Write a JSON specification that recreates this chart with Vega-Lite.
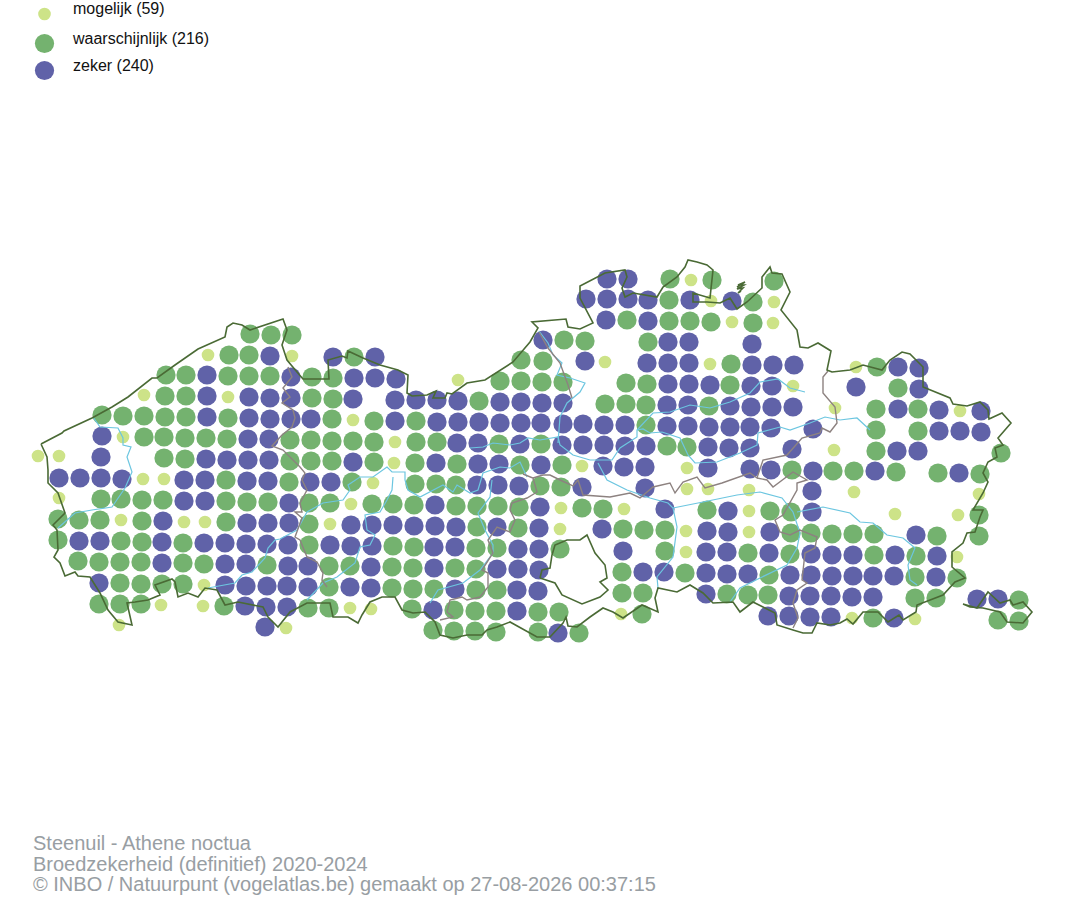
{
  "$schema": "https://vega.github.io/schema/vega-lite/v6.json",
  "width": 1074,
  "height": 900,
  "padding": 0,
  "autosize": "none",
  "background": "white",
  "title": {
    "text": ["Steenuil - Athene noctua", "Broedzekerheid (definitief) 2020-2024", "© INBO / Natuurpunt (vogelatlas.be) gemaakt op 27-08-2026 00:37:15"],
    "anchor": "start",
    "frame": "group",
    "orient": "top",
    "baseline": "top",
    "offset": 0,
    "dx": 33,
    "dy": 895,
    "font": "Liberation Sans",
    "fontSize": 20,
    "fontWeight": "normal",
    "lineHeight": 20.5,
    "color": "#989ea3"
  },
  "config": {"view": {"stroke": null}},
  "datasets": {
    "dots": [
      {"x":607,"y":279,"s":"zeker"},{"x":628,"y":279,"s":"zeker"},{"x":670,"y":279,"s":"waarschijnlijk"},{"x":691,"y":280,"s":"mogelijk"},{"x":712,"y":280,"s":"waarschijnlijk"},{"x":774,"y":281,"s":"waarschijnlijk"},
      {"x":586,"y":299,"s":"zeker"},{"x":607,"y":299,"s":"zeker"},{"x":628,"y":299,"s":"zeker"},{"x":648,"y":300,"s":"zeker"},{"x":669,"y":300,"s":"waarschijnlijk"},{"x":690,"y":300,"s":"zeker"},{"x":711,"y":301,"s":"mogelijk"},{"x":732,"y":301,"s":"zeker"},{"x":753,"y":302,"s":"waarschijnlijk"},{"x":774,"y":302,"s":"mogelijk"},
      {"x":606,"y":320,"s":"zeker"},{"x":627,"y":320,"s":"waarschijnlijk"},{"x":648,"y":321,"s":"zeker"},{"x":669,"y":321,"s":"waarschijnlijk"},{"x":690,"y":321,"s":"waarschijnlijk"},{"x":711,"y":322,"s":"waarschijnlijk"},{"x":732,"y":322,"s":"mogelijk"},{"x":753,"y":323,"s":"waarschijnlijk"},{"x":773,"y":323,"s":"mogelijk"},
      {"x":250,"y":334,"s":"waarschijnlijk"},{"x":271,"y":335,"s":"waarschijnlijk"},{"x":292,"y":335,"s":"waarschijnlijk"},{"x":543,"y":340,"s":"zeker"},{"x":564,"y":340,"s":"waarschijnlijk"},{"x":585,"y":341,"s":"waarschijnlijk"},{"x":648,"y":342,"s":"waarschijnlijk"},{"x":668,"y":342,"s":"zeker"},{"x":689,"y":342,"s":"zeker"},{"x":752,"y":344,"s":"zeker"},
      {"x":208,"y":355,"s":"mogelijk"},{"x":229,"y":355,"s":"waarschijnlijk"},{"x":249,"y":355,"s":"waarschijnlijk"},{"x":270,"y":356,"s":"zeker"},{"x":292,"y":356,"s":"mogelijk"},{"x":333,"y":357,"s":"zeker"},{"x":354,"y":357,"s":"waarschijnlijk"},{"x":375,"y":357,"s":"zeker"},{"x":521,"y":360,"s":"waarschijnlijk"},{"x":543,"y":361,"s":"waarschijnlijk"},{"x":585,"y":361,"s":"zeker"},{"x":605,"y":362,"s":"mogelijk"},{"x":647,"y":363,"s":"zeker"},{"x":668,"y":363,"s":"zeker"},{"x":689,"y":363,"s":"zeker"},{"x":710,"y":364,"s":"mogelijk"},{"x":731,"y":364,"s":"waarschijnlijk"},{"x":752,"y":365,"s":"zeker"},{"x":773,"y":365,"s":"zeker"},{"x":794,"y":365,"s":"zeker"},{"x":856,"y":367,"s":"mogelijk"},{"x":877,"y":367,"s":"waarschijnlijk"},{"x":898,"y":367,"s":"zeker"},{"x":919,"y":368,"s":"zeker"},
      {"x":166,"y":375,"s":"waarschijnlijk"},{"x":186,"y":375,"s":"waarschijnlijk"},{"x":207,"y":375,"s":"zeker"},{"x":228,"y":376,"s":"waarschijnlijk"},{"x":249,"y":376,"s":"waarschijnlijk"},{"x":270,"y":376,"s":"waarschijnlijk"},{"x":291,"y":377,"s":"zeker"},{"x":312,"y":377,"s":"waarschijnlijk"},{"x":333,"y":378,"s":"waarschijnlijk"},{"x":354,"y":378,"s":"zeker"},{"x":375,"y":378,"s":"zeker"},{"x":396,"y":379,"s":"zeker"},{"x":458,"y":380,"s":"mogelijk"},{"x":500,"y":381,"s":"waarschijnlijk"},{"x":521,"y":381,"s":"waarschijnlijk"},{"x":542,"y":382,"s":"waarschijnlijk"},{"x":563,"y":382,"s":"waarschijnlijk"},{"x":626,"y":383,"s":"waarschijnlijk"},{"x":647,"y":384,"s":"waarschijnlijk"},{"x":668,"y":384,"s":"zeker"},{"x":689,"y":384,"s":"zeker"},{"x":710,"y":385,"s":"zeker"},{"x":730,"y":385,"s":"waarschijnlijk"},{"x":751,"y":386,"s":"zeker"},{"x":772,"y":386,"s":"zeker"},{"x":793,"y":386,"s":"mogelijk"},{"x":856,"y":387,"s":"zeker"},{"x":898,"y":388,"s":"waarschijnlijk"},{"x":919,"y":389,"s":"zeker"},
      {"x":144,"y":395,"s":"mogelijk"},{"x":165,"y":396,"s":"waarschijnlijk"},{"x":186,"y":396,"s":"waarschijnlijk"},{"x":207,"y":396,"s":"zeker"},{"x":228,"y":397,"s":"mogelijk"},{"x":249,"y":397,"s":"zeker"},{"x":270,"y":398,"s":"zeker"},{"x":291,"y":398,"s":"zeker"},{"x":312,"y":398,"s":"waarschijnlijk"},{"x":333,"y":399,"s":"waarschijnlijk"},{"x":353,"y":399,"s":"zeker"},{"x":395,"y":400,"s":"zeker"},{"x":416,"y":400,"s":"zeker"},{"x":437,"y":400,"s":"zeker"},{"x":458,"y":401,"s":"zeker"},{"x":479,"y":401,"s":"waarschijnlijk"},{"x":500,"y":402,"s":"zeker"},{"x":521,"y":402,"s":"zeker"},{"x":542,"y":403,"s":"zeker"},{"x":563,"y":403,"s":"zeker"},{"x":605,"y":404,"s":"waarschijnlijk"},{"x":626,"y":404,"s":"waarschijnlijk"},{"x":646,"y":405,"s":"waarschijnlijk"},{"x":667,"y":405,"s":"zeker"},{"x":688,"y":405,"s":"zeker"},{"x":709,"y":406,"s":"waarschijnlijk"},{"x":730,"y":406,"s":"zeker"},{"x":751,"y":407,"s":"zeker"},{"x":772,"y":407,"s":"zeker"},{"x":793,"y":407,"s":"zeker"},{"x":835,"y":408,"s":"mogelijk"},{"x":876,"y":409,"s":"waarschijnlijk"},{"x":898,"y":409,"s":"zeker"},{"x":918,"y":409,"s":"waarschijnlijk"},{"x":939,"y":410,"s":"zeker"},{"x":960,"y":411,"s":"mogelijk"},{"x":981,"y":411,"s":"zeker"},
      {"x":102,"y":415,"s":"waarschijnlijk"},{"x":123,"y":416,"s":"waarschijnlijk"},{"x":144,"y":416,"s":"waarschijnlijk"},{"x":165,"y":417,"s":"waarschijnlijk"},{"x":186,"y":417,"s":"waarschijnlijk"},{"x":207,"y":417,"s":"zeker"},{"x":228,"y":418,"s":"waarschijnlijk"},{"x":249,"y":418,"s":"zeker"},{"x":270,"y":419,"s":"zeker"},{"x":291,"y":419,"s":"zeker"},{"x":311,"y":419,"s":"zeker"},{"x":332,"y":419,"s":"waarschijnlijk"},{"x":353,"y":420,"s":"mogelijk"},{"x":374,"y":421,"s":"waarschijnlijk"},{"x":395,"y":421,"s":"zeker"},{"x":416,"y":421,"s":"waarschijnlijk"},{"x":437,"y":422,"s":"zeker"},{"x":458,"y":422,"s":"zeker"},{"x":479,"y":422,"s":"zeker"},{"x":500,"y":423,"s":"zeker"},{"x":521,"y":423,"s":"zeker"},{"x":541,"y":423,"s":"zeker"},{"x":563,"y":424,"s":"zeker"},{"x":583,"y":424,"s":"zeker"},{"x":604,"y":425,"s":"zeker"},{"x":625,"y":425,"s":"zeker"},{"x":646,"y":425,"s":"waarschijnlijk"},{"x":667,"y":426,"s":"zeker"},{"x":688,"y":426,"s":"zeker"},{"x":709,"y":427,"s":"zeker"},{"x":730,"y":427,"s":"zeker"},{"x":750,"y":427,"s":"zeker"},{"x":771,"y":428,"s":"zeker"},{"x":813,"y":429,"s":"zeker"},{"x":876,"y":430,"s":"waarschijnlijk"},{"x":918,"y":431,"s":"waarschijnlijk"},{"x":939,"y":431,"s":"zeker"},{"x":960,"y":431,"s":"zeker"},{"x":981,"y":432,"s":"zeker"},
      {"x":102,"y":436,"s":"zeker"},{"x":123,"y":437,"s":"mogelijk"},{"x":144,"y":437,"s":"waarschijnlijk"},{"x":164,"y":437,"s":"waarschijnlijk"},{"x":185,"y":438,"s":"waarschijnlijk"},{"x":206,"y":438,"s":"waarschijnlijk"},{"x":227,"y":439,"s":"waarschijnlijk"},{"x":248,"y":439,"s":"zeker"},{"x":269,"y":439,"s":"zeker"},{"x":290,"y":440,"s":"waarschijnlijk"},{"x":311,"y":440,"s":"waarschijnlijk"},{"x":332,"y":441,"s":"waarschijnlijk"},{"x":353,"y":441,"s":"waarschijnlijk"},{"x":374,"y":442,"s":"waarschijnlijk"},{"x":395,"y":442,"s":"mogelijk"},{"x":416,"y":442,"s":"waarschijnlijk"},{"x":437,"y":442,"s":"waarschijnlijk"},{"x":457,"y":443,"s":"zeker"},{"x":478,"y":443,"s":"zeker"},{"x":499,"y":444,"s":"waarschijnlijk"},{"x":520,"y":444,"s":"zeker"},{"x":541,"y":444,"s":"waarschijnlijk"},{"x":562,"y":445,"s":"zeker"},{"x":583,"y":445,"s":"zeker"},{"x":604,"y":445,"s":"zeker"},{"x":625,"y":446,"s":"zeker"},{"x":646,"y":446,"s":"zeker"},{"x":667,"y":446,"s":"waarschijnlijk"},{"x":687,"y":447,"s":"waarschijnlijk"},{"x":708,"y":447,"s":"zeker"},{"x":729,"y":448,"s":"zeker"},{"x":750,"y":448,"s":"zeker"},{"x":792,"y":449,"s":"zeker"},{"x":834,"y":450,"s":"mogelijk"},{"x":876,"y":451,"s":"waarschijnlijk"},{"x":897,"y":451,"s":"zeker"},{"x":918,"y":451,"s":"zeker"},{"x":1001,"y":453,"s":"waarschijnlijk"},
      {"x":38,"y":456,"s":"mogelijk"},{"x":59,"y":456,"s":"mogelijk"},{"x":101,"y":457,"s":"zeker"},{"x":164,"y":458,"s":"waarschijnlijk"},{"x":185,"y":459,"s":"waarschijnlijk"},{"x":206,"y":459,"s":"zeker"},{"x":227,"y":460,"s":"zeker"},{"x":248,"y":460,"s":"zeker"},{"x":269,"y":460,"s":"zeker"},{"x":290,"y":461,"s":"waarschijnlijk"},{"x":311,"y":461,"s":"waarschijnlijk"},{"x":332,"y":461,"s":"waarschijnlijk"},{"x":353,"y":462,"s":"zeker"},{"x":374,"y":462,"s":"waarschijnlijk"},{"x":394,"y":463,"s":"mogelijk"},{"x":415,"y":463,"s":"waarschijnlijk"},{"x":436,"y":463,"s":"zeker"},{"x":457,"y":464,"s":"waarschijnlijk"},{"x":478,"y":464,"s":"zeker"},{"x":499,"y":464,"s":"zeker"},{"x":520,"y":465,"s":"waarschijnlijk"},{"x":541,"y":465,"s":"zeker"},{"x":562,"y":465,"s":"waarschijnlijk"},{"x":582,"y":466,"s":"mogelijk"},{"x":603,"y":466,"s":"zeker"},{"x":624,"y":467,"s":"zeker"},{"x":645,"y":467,"s":"zeker"},{"x":687,"y":468,"s":"mogelijk"},{"x":708,"y":468,"s":"zeker"},{"x":750,"y":469,"s":"zeker"},{"x":771,"y":470,"s":"zeker"},{"x":792,"y":470,"s":"waarschijnlijk"},{"x":813,"y":471,"s":"zeker"},{"x":833,"y":471,"s":"waarschijnlijk"},{"x":854,"y":471,"s":"waarschijnlijk"},{"x":875,"y":471,"s":"zeker"},{"x":896,"y":472,"s":"waarschijnlijk"},{"x":938,"y":473,"s":"waarschijnlijk"},{"x":959,"y":473,"s":"zeker"},{"x":980,"y":474,"s":"waarschijnlijk"},
      {"x":59,"y":478,"s":"zeker"},{"x":80,"y":478,"s":"zeker"},{"x":101,"y":478,"s":"zeker"},{"x":122,"y":479,"s":"zeker"},{"x":143,"y":479,"s":"mogelijk"},{"x":164,"y":479,"s":"mogelijk"},{"x":184,"y":480,"s":"zeker"},{"x":205,"y":480,"s":"zeker"},{"x":226,"y":480,"s":"waarschijnlijk"},{"x":247,"y":481,"s":"zeker"},{"x":268,"y":481,"s":"zeker"},{"x":289,"y":482,"s":"waarschijnlijk"},{"x":310,"y":482,"s":"zeker"},{"x":331,"y":482,"s":"zeker"},{"x":352,"y":482,"s":"waarschijnlijk"},{"x":373,"y":483,"s":"mogelijk"},{"x":415,"y":484,"s":"waarschijnlijk"},{"x":436,"y":484,"s":"waarschijnlijk"},{"x":456,"y":485,"s":"waarschijnlijk"},{"x":477,"y":485,"s":"zeker"},{"x":498,"y":485,"s":"zeker"},{"x":519,"y":486,"s":"zeker"},{"x":540,"y":486,"s":"waarschijnlijk"},{"x":561,"y":487,"s":"waarschijnlijk"},{"x":582,"y":487,"s":"zeker"},{"x":645,"y":488,"s":"zeker"},{"x":687,"y":489,"s":"mogelijk"},{"x":708,"y":489,"s":"mogelijk"},{"x":749,"y":490,"s":"mogelijk"},{"x":812,"y":491,"s":"zeker"},{"x":854,"y":492,"s":"mogelijk"},{"x":979,"y":494,"s":"mogelijk"},
      {"x":59,"y":498,"s":"mogelijk"},{"x":101,"y":499,"s":"waarschijnlijk"},{"x":121,"y":499,"s":"waarschijnlijk"},{"x":142,"y":500,"s":"waarschijnlijk"},{"x":163,"y":500,"s":"waarschijnlijk"},{"x":184,"y":501,"s":"zeker"},{"x":205,"y":501,"s":"zeker"},{"x":226,"y":501,"s":"waarschijnlijk"},{"x":247,"y":502,"s":"waarschijnlijk"},{"x":268,"y":502,"s":"waarschijnlijk"},{"x":289,"y":503,"s":"zeker"},{"x":309,"y":503,"s":"waarschijnlijk"},{"x":330,"y":503,"s":"waarschijnlijk"},{"x":351,"y":504,"s":"mogelijk"},{"x":372,"y":504,"s":"waarschijnlijk"},{"x":393,"y":504,"s":"waarschijnlijk"},{"x":414,"y":505,"s":"waarschijnlijk"},{"x":435,"y":505,"s":"zeker"},{"x":456,"y":506,"s":"waarschijnlijk"},{"x":477,"y":506,"s":"waarschijnlijk"},{"x":498,"y":506,"s":"waarschijnlijk"},{"x":519,"y":507,"s":"waarschijnlijk"},{"x":540,"y":507,"s":"zeker"},{"x":561,"y":508,"s":"mogelijk"},{"x":582,"y":508,"s":"waarschijnlijk"},{"x":603,"y":509,"s":"waarschijnlijk"},{"x":624,"y":509,"s":"mogelijk"},{"x":665,"y":509,"s":"zeker"},{"x":707,"y":510,"s":"waarschijnlijk"},{"x":728,"y":511,"s":"zeker"},{"x":749,"y":511,"s":"mogelijk"},{"x":770,"y":511,"s":"waarschijnlijk"},{"x":791,"y":512,"s":"waarschijnlijk"},{"x":812,"y":512,"s":"zeker"},{"x":895,"y":514,"s":"mogelijk"},{"x":958,"y":515,"s":"mogelijk"},{"x":979,"y":515,"s":"waarschijnlijk"},
      {"x":58,"y":519,"s":"waarschijnlijk"},{"x":79,"y":520,"s":"waarschijnlijk"},{"x":100,"y":520,"s":"waarschijnlijk"},{"x":121,"y":520,"s":"mogelijk"},{"x":142,"y":521,"s":"waarschijnlijk"},{"x":163,"y":521,"s":"zeker"},{"x":184,"y":522,"s":"mogelijk"},{"x":205,"y":522,"s":"mogelijk"},{"x":226,"y":522,"s":"waarschijnlijk"},{"x":247,"y":523,"s":"zeker"},{"x":268,"y":523,"s":"zeker"},{"x":289,"y":523,"s":"zeker"},{"x":309,"y":524,"s":"waarschijnlijk"},{"x":330,"y":524,"s":"mogelijk"},{"x":351,"y":525,"s":"zeker"},{"x":372,"y":525,"s":"zeker"},{"x":393,"y":525,"s":"zeker"},{"x":414,"y":526,"s":"zeker"},{"x":435,"y":526,"s":"zeker"},{"x":456,"y":527,"s":"zeker"},{"x":477,"y":527,"s":"waarschijnlijk"},{"x":497,"y":527,"s":"zeker"},{"x":518,"y":528,"s":"waarschijnlijk"},{"x":539,"y":528,"s":"zeker"},{"x":560,"y":529,"s":"mogelijk"},{"x":602,"y":529,"s":"zeker"},{"x":623,"y":529,"s":"waarschijnlijk"},{"x":644,"y":530,"s":"waarschijnlijk"},{"x":665,"y":530,"s":"waarschijnlijk"},{"x":686,"y":531,"s":"mogelijk"},{"x":707,"y":531,"s":"zeker"},{"x":728,"y":532,"s":"zeker"},{"x":749,"y":532,"s":"mogelijk"},{"x":770,"y":532,"s":"zeker"},{"x":791,"y":533,"s":"waarschijnlijk"},{"x":811,"y":533,"s":"waarschijnlijk"},{"x":832,"y":534,"s":"waarschijnlijk"},{"x":853,"y":534,"s":"waarschijnlijk"},{"x":874,"y":534,"s":"waarschijnlijk"},{"x":916,"y":535,"s":"zeker"},{"x":937,"y":536,"s":"waarschijnlijk"},{"x":979,"y":536,"s":"waarschijnlijk"},
      {"x":58,"y":540,"s":"waarschijnlijk"},{"x":79,"y":541,"s":"zeker"},{"x":100,"y":541,"s":"zeker"},{"x":121,"y":541,"s":"waarschijnlijk"},{"x":142,"y":542,"s":"waarschijnlijk"},{"x":162,"y":542,"s":"zeker"},{"x":183,"y":543,"s":"waarschijnlijk"},{"x":204,"y":543,"s":"zeker"},{"x":225,"y":543,"s":"zeker"},{"x":246,"y":544,"s":"zeker"},{"x":267,"y":544,"s":"zeker"},{"x":288,"y":545,"s":"zeker"},{"x":309,"y":545,"s":"waarschijnlijk"},{"x":330,"y":545,"s":"zeker"},{"x":351,"y":546,"s":"zeker"},{"x":372,"y":546,"s":"zeker"},{"x":393,"y":546,"s":"waarschijnlijk"},{"x":414,"y":547,"s":"waarschijnlijk"},{"x":434,"y":547,"s":"zeker"},{"x":455,"y":547,"s":"zeker"},{"x":476,"y":548,"s":"waarschijnlijk"},{"x":497,"y":548,"s":"waarschijnlijk"},{"x":518,"y":549,"s":"zeker"},{"x":539,"y":549,"s":"zeker"},{"x":560,"y":549,"s":"waarschijnlijk"},{"x":623,"y":551,"s":"zeker"},{"x":665,"y":551,"s":"waarschijnlijk"},{"x":686,"y":552,"s":"mogelijk"},{"x":706,"y":552,"s":"zeker"},{"x":727,"y":552,"s":"zeker"},{"x":748,"y":553,"s":"waarschijnlijk"},{"x":769,"y":553,"s":"zeker"},{"x":790,"y":554,"s":"waarschijnlijk"},{"x":811,"y":554,"s":"zeker"},{"x":832,"y":555,"s":"zeker"},{"x":853,"y":555,"s":"zeker"},{"x":874,"y":555,"s":"waarschijnlijk"},{"x":895,"y":555,"s":"zeker"},{"x":916,"y":556,"s":"waarschijnlijk"},{"x":937,"y":556,"s":"zeker"},{"x":957,"y":557,"s":"mogelijk"},
      {"x":78,"y":561,"s":"waarschijnlijk"},{"x":99,"y":562,"s":"waarschijnlijk"},{"x":120,"y":562,"s":"waarschijnlijk"},{"x":141,"y":562,"s":"waarschijnlijk"},{"x":162,"y":563,"s":"zeker"},{"x":183,"y":563,"s":"waarschijnlijk"},{"x":204,"y":564,"s":"waarschijnlijk"},{"x":225,"y":564,"s":"zeker"},{"x":246,"y":564,"s":"zeker"},{"x":267,"y":565,"s":"waarschijnlijk"},{"x":288,"y":566,"s":"zeker"},{"x":308,"y":566,"s":"zeker"},{"x":329,"y":566,"s":"waarschijnlijk"},{"x":350,"y":566,"s":"waarschijnlijk"},{"x":371,"y":567,"s":"zeker"},{"x":392,"y":567,"s":"waarschijnlijk"},{"x":413,"y":568,"s":"waarschijnlijk"},{"x":434,"y":568,"s":"zeker"},{"x":455,"y":568,"s":"waarschijnlijk"},{"x":476,"y":569,"s":"waarschijnlijk"},{"x":497,"y":569,"s":"zeker"},{"x":518,"y":569,"s":"zeker"},{"x":539,"y":570,"s":"zeker"},{"x":622,"y":572,"s":"waarschijnlijk"},{"x":643,"y":572,"s":"zeker"},{"x":664,"y":572,"s":"zeker"},{"x":685,"y":573,"s":"waarschijnlijk"},{"x":706,"y":573,"s":"zeker"},{"x":727,"y":574,"s":"zeker"},{"x":748,"y":574,"s":"zeker"},{"x":769,"y":575,"s":"waarschijnlijk"},{"x":790,"y":575,"s":"zeker"},{"x":811,"y":575,"s":"zeker"},{"x":832,"y":576,"s":"zeker"},{"x":853,"y":576,"s":"zeker"},{"x":873,"y":576,"s":"zeker"},{"x":894,"y":576,"s":"zeker"},{"x":915,"y":577,"s":"waarschijnlijk"},{"x":936,"y":577,"s":"zeker"},{"x":957,"y":578,"s":"waarschijnlijk"},
      {"x":99,"y":583,"s":"zeker"},{"x":120,"y":583,"s":"waarschijnlijk"},{"x":141,"y":584,"s":"waarschijnlijk"},{"x":162,"y":584,"s":"waarschijnlijk"},{"x":183,"y":584,"s":"waarschijnlijk"},{"x":204,"y":585,"s":"mogelijk"},{"x":225,"y":585,"s":"zeker"},{"x":246,"y":586,"s":"zeker"},{"x":267,"y":586,"s":"zeker"},{"x":287,"y":586,"s":"zeker"},{"x":308,"y":587,"s":"zeker"},{"x":329,"y":587,"s":"waarschijnlijk"},{"x":350,"y":587,"s":"zeker"},{"x":371,"y":588,"s":"zeker"},{"x":392,"y":588,"s":"waarschijnlijk"},{"x":413,"y":589,"s":"waarschijnlijk"},{"x":434,"y":589,"s":"waarschijnlijk"},{"x":455,"y":589,"s":"zeker"},{"x":476,"y":590,"s":"waarschijnlijk"},{"x":497,"y":590,"s":"waarschijnlijk"},{"x":517,"y":590,"s":"zeker"},{"x":538,"y":591,"s":"zeker"},{"x":622,"y":593,"s":"waarschijnlijk"},{"x":643,"y":593,"s":"waarschijnlijk"},{"x":706,"y":594,"s":"zeker"},{"x":727,"y":594,"s":"waarschijnlijk"},{"x":748,"y":595,"s":"waarschijnlijk"},{"x":768,"y":595,"s":"waarschijnlijk"},{"x":789,"y":596,"s":"zeker"},{"x":810,"y":596,"s":"zeker"},{"x":831,"y":596,"s":"zeker"},{"x":852,"y":597,"s":"zeker"},{"x":873,"y":597,"s":"zeker"},{"x":915,"y":598,"s":"waarschijnlijk"},{"x":936,"y":598,"s":"waarschijnlijk"},{"x":977,"y":599,"s":"zeker"},{"x":998,"y":599,"s":"zeker"},{"x":1019,"y":600,"s":"waarschijnlijk"},
      {"x":99,"y":604,"s":"waarschijnlijk"},{"x":120,"y":604,"s":"waarschijnlijk"},{"x":141,"y":604,"s":"waarschijnlijk"},{"x":161,"y":605,"s":"mogelijk"},{"x":203,"y":606,"s":"mogelijk"},{"x":224,"y":606,"s":"waarschijnlijk"},{"x":245,"y":606,"s":"zeker"},{"x":266,"y":607,"s":"zeker"},{"x":287,"y":607,"s":"zeker"},{"x":308,"y":608,"s":"waarschijnlijk"},{"x":329,"y":608,"s":"waarschijnlijk"},{"x":350,"y":608,"s":"mogelijk"},{"x":371,"y":609,"s":"mogelijk"},{"x":412,"y":609,"s":"waarschijnlijk"},{"x":433,"y":610,"s":"zeker"},{"x":454,"y":610,"s":"waarschijnlijk"},{"x":475,"y":611,"s":"waarschijnlijk"},{"x":496,"y":611,"s":"waarschijnlijk"},{"x":517,"y":611,"s":"zeker"},{"x":538,"y":612,"s":"waarschijnlijk"},{"x":559,"y":612,"s":"waarschijnlijk"},{"x":621,"y":614,"s":"mogelijk"},{"x":642,"y":614,"s":"waarschijnlijk"},{"x":768,"y":616,"s":"zeker"},{"x":789,"y":616,"s":"zeker"},{"x":810,"y":617,"s":"zeker"},{"x":831,"y":617,"s":"zeker"},{"x":852,"y":618,"s":"mogelijk"},{"x":873,"y":618,"s":"waarschijnlijk"},{"x":894,"y":618,"s":"zeker"},{"x":915,"y":619,"s":"mogelijk"},{"x":998,"y":620,"s":"waarschijnlijk"},{"x":1019,"y":621,"s":"waarschijnlijk"},
      {"x":119,"y":625,"s":"mogelijk"},{"x":265,"y":627,"s":"zeker"},{"x":286,"y":628,"s":"mogelijk"},{"x":433,"y":630,"s":"waarschijnlijk"},{"x":454,"y":631,"s":"waarschijnlijk"},{"x":475,"y":631,"s":"waarschijnlijk"},{"x":496,"y":632,"s":"waarschijnlijk"},{"x":538,"y":632,"s":"waarschijnlijk"},{"x":558,"y":633,"s":"zeker"},{"x":579,"y":633,"s":"waarschijnlijk"}
    ],
    "rivers": [
      {"id":"ijzer","i":0,"x":93,"y":417},{"id":"ijzer","i":1,"x":100,"y":427},{"id":"ijzer","i":2,"x":118,"y":428},{"id":"ijzer","i":3,"x":123,"y":438},{"id":"ijzer","i":4,"x":123,"y":445},{"id":"ijzer","i":5,"x":131,"y":447},{"id":"ijzer","i":6,"x":127,"y":457},{"id":"ijzer","i":7,"x":132,"y":472},{"id":"ijzer","i":8,"x":125,"y":488},{"id":"ijzer","i":9,"x":112,"y":507},{"id":"ijzer","i":10,"x":92,"y":510},{"id":"ijzer","i":11,"x":75,"y":513},{"id":"ijzer","i":12,"x":58,"y":528},
      {"id":"leie","i":0,"x":208,"y":588},{"id":"leie","i":1,"x":235,"y":583},{"id":"leie","i":2,"x":242,"y":575},{"id":"leie","i":3,"x":252,"y":572},{"id":"leie","i":4,"x":265,"y":558},{"id":"leie","i":5,"x":268,"y":548},{"id":"leie","i":6,"x":275,"y":540},{"id":"leie","i":7,"x":280,"y":539},{"id":"leie","i":8,"x":297,"y":530},{"id":"leie","i":9,"x":307,"y":512},{"id":"leie","i":10,"x":323,"y":503},{"id":"leie","i":11,"x":343,"y":500},{"id":"leie","i":12,"x":350,"y":490},{"id":"leie","i":13,"x":348,"y":485},{"id":"leie","i":14,"x":360,"y":477},{"id":"leie","i":15,"x":373,"y":477},{"id":"leie","i":16,"x":387,"y":467},{"id":"leie","i":17,"x":392,"y":472},{"id":"leie","i":18,"x":405,"y":472},{"id":"leie","i":19,"x":405,"y":480},{"id":"leie","i":20,"x":408,"y":490},{"id":"leie","i":21,"x":420,"y":497},{"id":"leie","i":22,"x":443,"y":485},{"id":"leie","i":23,"x":453,"y":492},{"id":"leie","i":24,"x":457,"y":485},{"id":"leie","i":25,"x":470,"y":493},{"id":"leie","i":26,"x":478,"y":490},{"id":"leie","i":27,"x":483,"y":473},{"id":"leie","i":28,"x":500,"y":467},{"id":"leie","i":29,"x":510,"y":468},{"id":"leie","i":30,"x":520,"y":462},{"id":"leie","i":31,"x":527,"y":477},
      {"id":"schelde","i":0,"x":393,"y":477},{"id":"schelde","i":1,"x":392,"y":490},{"id":"schelde","i":2,"x":387,"y":500},{"id":"schelde","i":3,"x":380,"y":512},{"id":"schelde","i":4,"x":365,"y":515},{"id":"schelde","i":5,"x":367,"y":530},{"id":"schelde","i":6,"x":375,"y":535},{"id":"schelde","i":7,"x":370,"y":545},{"id":"schelde","i":8,"x":360,"y":547},{"id":"schelde","i":9,"x":355,"y":563},{"id":"schelde","i":10,"x":337,"y":577},{"id":"schelde","i":11,"x":323,"y":583},{"id":"schelde","i":12,"x":307,"y":600},
      {"id":"dender","i":0,"x":492,"y":480},{"id":"dender","i":1,"x":490,"y":497},{"id":"dender","i":2,"x":478,"y":513},{"id":"dender","i":3,"x":485,"y":530},{"id":"dender","i":4,"x":493,"y":545},{"id":"dender","i":5,"x":493,"y":553},{"id":"dender","i":6,"x":480,"y":570},{"id":"dender","i":7,"x":463,"y":583},{"id":"dender","i":8,"x":438,"y":590},{"id":"dender","i":9,"x":430,"y":603},
      {"id":"durme","i":0,"x":470,"y":448},{"id":"durme","i":1,"x":483,"y":447},{"id":"durme","i":2,"x":493,"y":443},{"id":"durme","i":3,"x":510,"y":445},{"id":"durme","i":4,"x":520,"y":443},{"id":"durme","i":5,"x":528,"y":438},{"id":"durme","i":6,"x":540,"y":440},{"id":"durme","i":7,"x":558,"y":437},{"id":"durme","i":8,"x":560,"y":445},{"id":"durme","i":9,"x":573,"y":455},{"id":"durme","i":10,"x":590,"y":460},{"id":"durme","i":11,"x":612,"y":460},{"id":"durme","i":12,"x":620,"y":448},{"id":"durme","i":13,"x":637,"y":437},{"id":"durme","i":14,"x":637,"y":430},{"id":"durme","i":15,"x":653,"y":413},{"id":"durme","i":16,"x":670,"y":412},{"id":"durme","i":17,"x":690,"y":405},{"id":"durme","i":18,"x":710,"y":408},{"id":"durme","i":19,"x":730,"y":402},{"id":"durme","i":20,"x":750,"y":393},{"id":"durme","i":21,"x":760,"y":382},{"id":"durme","i":22,"x":778,"y":379},{"id":"durme","i":23,"x":790,"y":388},{"id":"durme","i":24,"x":805,"y":392},
      {"id":"kanaal","i":0,"x":637,"y":430},{"id":"kanaal","i":1,"x":643,"y":429},{"id":"kanaal","i":2,"x":650,"y":433},{"id":"kanaal","i":3,"x":662,"y":432},{"id":"kanaal","i":4,"x":680,"y":438},{"id":"kanaal","i":5,"x":688,"y":455},{"id":"kanaal","i":6,"x":695,"y":463},{"id":"kanaal","i":7,"x":717,"y":462},{"id":"kanaal","i":8,"x":740,"y":453},{"id":"kanaal","i":9,"x":757,"y":445},{"id":"kanaal","i":10,"x":758,"y":433},{"id":"kanaal","i":11,"x":780,"y":427},{"id":"kanaal","i":12,"x":790,"y":430},{"id":"kanaal","i":13,"x":810,"y":423},{"id":"kanaal","i":14,"x":825,"y":417},{"id":"kanaal","i":15,"x":840,"y":420},{"id":"kanaal","i":16,"x":857,"y":418},{"id":"kanaal","i":17,"x":870,"y":430},
      {"id":"rupel","i":0,"x":539,"y":331},{"id":"rupel","i":1,"x":548,"y":343},{"id":"rupel","i":2,"x":553,"y":355},{"id":"rupel","i":3,"x":562,"y":363},{"id":"rupel","i":4,"x":557,"y":375},{"id":"rupel","i":5,"x":570,"y":378},{"id":"rupel","i":6,"x":585,"y":383},{"id":"rupel","i":7,"x":580,"y":392},{"id":"rupel","i":8,"x":567,"y":403},{"id":"rupel","i":9,"x":560,"y":417},{"id":"rupel","i":10,"x":558,"y":443},
      {"id":"dijle","i":0,"x":598,"y":463},{"id":"dijle","i":1,"x":607,"y":480},{"id":"dijle","i":2,"x":627,"y":490},{"id":"dijle","i":3,"x":650,"y":498},{"id":"dijle","i":4,"x":668,"y":503},{"id":"dijle","i":5,"x":673,"y":508},{"id":"dijle","i":6,"x":677,"y":527},{"id":"dijle","i":7,"x":673,"y":557},{"id":"dijle","i":8,"x":657,"y":577},{"id":"dijle","i":9,"x":658,"y":588},
      {"id":"demer","i":0,"x":673,"y":508},{"id":"demer","i":1,"x":703,"y":502},{"id":"demer","i":2,"x":737,"y":495},{"id":"demer","i":3,"x":760,"y":492},{"id":"demer","i":4,"x":782,"y":498},{"id":"demer","i":5,"x":793,"y":512},{"id":"demer","i":6,"x":800,"y":533},{"id":"demer","i":7,"x":797,"y":548},{"id":"demer","i":8,"x":787,"y":565},{"id":"demer","i":9,"x":760,"y":578},{"id":"demer","i":10,"x":740,"y":588},{"id":"demer","i":11,"x":730,"y":602},
      {"id":"gete","i":0,"x":797,"y":512},{"id":"gete","i":1,"x":823,"y":507},{"id":"gete","i":2,"x":850,"y":513},{"id":"gete","i":3,"x":860,"y":522},{"id":"gete","i":4,"x":873,"y":523},{"id":"gete","i":5,"x":887,"y":535},{"id":"gete","i":6,"x":903,"y":538},{"id":"gete","i":7,"x":915,"y":548},{"id":"gete","i":8,"x":908,"y":565},{"id":"gete","i":9,"x":910,"y":580},{"id":"gete","i":10,"x":917,"y":585}
    ],
    "provinces": [
      {"id":"p1","i":0,"x":288,"y":367},{"id":"p1","i":1,"x":292,"y":377},{"id":"p1","i":2,"x":283,"y":388},{"id":"p1","i":3,"x":290,"y":397},{"id":"p1","i":4,"x":282,"y":403},{"id":"p1","i":5,"x":293,"y":410},{"id":"p1","i":6,"x":295,"y":418},{"id":"p1","i":7,"x":292,"y":427},{"id":"p1","i":8,"x":282,"y":435},{"id":"p1","i":9,"x":272,"y":446},{"id":"p1","i":10,"x":283,"y":450},{"id":"p1","i":11,"x":300,"y":467},{"id":"p1","i":12,"x":305,"y":473},{"id":"p1","i":13,"x":302,"y":480},{"id":"p1","i":14,"x":307,"y":490},{"id":"p1","i":15,"x":300,"y":503},{"id":"p1","i":16,"x":302,"y":512},{"id":"p1","i":17,"x":295,"y":512},{"id":"p1","i":18,"x":302,"y":518},{"id":"p1","i":19,"x":295,"y":537},{"id":"p1","i":20,"x":300,"y":540},{"id":"p1","i":21,"x":307,"y":557},{"id":"p1","i":22,"x":317,"y":562},{"id":"p1","i":23,"x":323,"y":573},{"id":"p1","i":24,"x":322,"y":580},{"id":"p1","i":25,"x":327,"y":587},
      {"id":"p2","i":0,"x":523,"y":474},{"id":"p2","i":1,"x":533,"y":478},{"id":"p2","i":2,"x":537,"y":492},{"id":"p2","i":3,"x":527,"y":498},{"id":"p2","i":4,"x":512,"y":503},{"id":"p2","i":5,"x":510,"y":510},{"id":"p2","i":6,"x":515,"y":520},{"id":"p2","i":7,"x":510,"y":532},{"id":"p2","i":8,"x":497,"y":527},{"id":"p2","i":9,"x":488,"y":540},{"id":"p2","i":10,"x":493,"y":553},{"id":"p2","i":11,"x":482,"y":570},{"id":"p2","i":12,"x":488,"y":573},{"id":"p2","i":13,"x":488,"y":587},{"id":"p2","i":14,"x":480,"y":597},{"id":"p2","i":15,"x":467,"y":600},{"id":"p2","i":16,"x":462,"y":597},{"id":"p2","i":17,"x":450,"y":600},{"id":"p2","i":18,"x":447,"y":612},{"id":"p2","i":19,"x":453,"y":617},{"id":"p2","i":20,"x":440,"y":620},
      {"id":"p3","i":0,"x":533,"y":478},{"id":"p3","i":1,"x":543,"y":475},{"id":"p3","i":2,"x":550,"y":475},{"id":"p3","i":3,"x":560,"y":480},{"id":"p3","i":4,"x":573,"y":486},{"id":"p3","i":5,"x":578,"y":480},{"id":"p3","i":6,"x":583,"y":495},{"id":"p3","i":7,"x":610,"y":497},{"id":"p3","i":8,"x":630,"y":493},{"id":"p3","i":9,"x":640,"y":498},{"id":"p3","i":10,"x":653,"y":487},{"id":"p3","i":11,"x":670,"y":483},{"id":"p3","i":12,"x":675,"y":493},{"id":"p3","i":13,"x":683,"y":482},{"id":"p3","i":14,"x":697,"y":477},{"id":"p3","i":15,"x":705,"y":488},{"id":"p3","i":16,"x":722,"y":483},{"id":"p3","i":17,"x":750,"y":473},{"id":"p3","i":18,"x":757,"y":478},{"id":"p3","i":19,"x":763,"y":460},{"id":"p3","i":20,"x":787,"y":455},{"id":"p3","i":21,"x":802,"y":438},{"id":"p3","i":22,"x":820,"y":433},{"id":"p3","i":23,"x":822,"y":428},{"id":"p3","i":24,"x":830,"y":432},{"id":"p3","i":25,"x":837,"y":423},{"id":"p3","i":26,"x":835,"y":407},{"id":"p3","i":27,"x":823,"y":393},{"id":"p3","i":28,"x":823,"y":377},{"id":"p3","i":29,"x":828,"y":371},
      {"id":"p4","i":0,"x":757,"y":478},{"id":"p4","i":1,"x":767,"y":480},{"id":"p4","i":2,"x":773,"y":487},{"id":"p4","i":3,"x":793,"y":472},{"id":"p4","i":4,"x":807,"y":480},{"id":"p4","i":5,"x":797,"y":483},{"id":"p4","i":6,"x":797,"y":490},{"id":"p4","i":7,"x":783,"y":515},{"id":"p4","i":8,"x":775,"y":520},{"id":"p4","i":9,"x":780,"y":532},{"id":"p4","i":10,"x":790,"y":535},{"id":"p4","i":11,"x":800,"y":530},{"id":"p4","i":12,"x":817,"y":537},{"id":"p4","i":13,"x":815,"y":548},{"id":"p4","i":14,"x":805,"y":553},{"id":"p4","i":15,"x":802,"y":580},{"id":"p4","i":16,"x":807,"y":583},{"id":"p4","i":17,"x":797,"y":590},{"id":"p4","i":18,"x":793,"y":603},{"id":"p4","i":19,"x":798,"y":618},{"id":"p4","i":20,"x":793,"y":628},
      {"id":"p5","i":0,"x":539,"y":332},{"id":"p5","i":1,"x":548,"y":348},{"id":"p5","i":2,"x":560,"y":363},{"id":"p5","i":3,"x":568,"y":385},{"id":"p5","i":4,"x":572,"y":398}
    ],
    "borders": [
      {"id":"vl","i":0,"x":41,"y":444},{"id":"vl","i":1,"x":62,"y":433},{"id":"vl","i":2,"x":64,"y":431},{"id":"vl","i":3,"x":92,"y":418},{"id":"vl","i":4,"x":112,"y":407},{"id":"vl","i":5,"x":128,"y":397},{"id":"vl","i":6,"x":152,"y":378},{"id":"vl","i":7,"x":157,"y":378},{"id":"vl","i":8,"x":175,"y":365},{"id":"vl","i":9,"x":198,"y":349},{"id":"vl","i":10,"x":225,"y":337},{"id":"vl","i":11,"x":227,"y":327},{"id":"vl","i":12,"x":233,"y":323},{"id":"vl","i":13,"x":242,"y":325},{"id":"vl","i":14,"x":250,"y":330},{"id":"vl","i":15,"x":283,"y":319},{"id":"vl","i":16,"x":287,"y":330},{"id":"vl","i":17,"x":282,"y":345},{"id":"vl","i":18,"x":287,"y":360},{"id":"vl","i":19,"x":297,"y":372},{"id":"vl","i":20,"x":303,"y":379},{"id":"vl","i":21,"x":329,"y":379},{"id":"vl","i":22,"x":328,"y":360},{"id":"vl","i":23,"x":342,"y":356},{"id":"vl","i":24,"x":347,"y":358},{"id":"vl","i":25,"x":348,"y":351},{"id":"vl","i":26,"x":363,"y":358},{"id":"vl","i":27,"x":380,"y":365},{"id":"vl","i":28,"x":398,"y":370},{"id":"vl","i":29,"x":408,"y":375},{"id":"vl","i":30,"x":407,"y":393},{"id":"vl","i":31,"x":412,"y":396},{"id":"vl","i":32,"x":427,"y":395},{"id":"vl","i":33,"x":436,"y":391},{"id":"vl","i":34,"x":433,"y":398},{"id":"vl","i":35,"x":445,"y":398},{"id":"vl","i":36,"x":447,"y":393},{"id":"vl","i":37,"x":452,"y":394},{"id":"vl","i":38,"x":467,"y":383},{"id":"vl","i":39,"x":485,"y":380},{"id":"vl","i":40,"x":513,"y":362},{"id":"vl","i":41,"x":530,"y":342},{"id":"vl","i":42,"x":538,"y":328},{"id":"vl","i":43,"x":532,"y":322},{"id":"vl","i":44,"x":566,"y":319},{"id":"vl","i":45,"x":568,"y":327},{"id":"vl","i":46,"x":580,"y":329},{"id":"vl","i":47,"x":593,"y":323},{"id":"vl","i":48,"x":580,"y":298},{"id":"vl","i":49,"x":580,"y":286},{"id":"vl","i":50,"x":605,"y":273},{"id":"vl","i":51,"x":625,"y":270},{"id":"vl","i":52,"x":627,"y":277},{"id":"vl","i":53,"x":622,"y":288},{"id":"vl","i":54,"x":625,"y":297},{"id":"vl","i":55,"x":633,"y":293},{"id":"vl","i":56,"x":657,"y":297},{"id":"vl","i":57,"x":663,"y":287},{"id":"vl","i":58,"x":677,"y":277},{"id":"vl","i":59,"x":685,"y":267},{"id":"vl","i":60,"x":688,"y":260},{"id":"vl","i":61,"x":697,"y":262},{"id":"vl","i":62,"x":707,"y":265},{"id":"vl","i":63,"x":713,"y":270},{"id":"vl","i":64,"x":710,"y":298},{"id":"vl","i":65,"x":693,"y":293},{"id":"vl","i":66,"x":693,"y":302},{"id":"vl","i":67,"x":707,"y":302},{"id":"vl","i":68,"x":720,"y":303},{"id":"vl","i":69,"x":730,"y":298},{"id":"vl","i":70,"x":737,"y":309},{"id":"vl","i":71,"x":747,"y":302},{"id":"vl","i":72,"x":762,"y":288},{"id":"vl","i":73,"x":762,"y":277},{"id":"vl","i":74,"x":770,"y":267},{"id":"vl","i":75,"x":772,"y":273},{"id":"vl","i":76,"x":782,"y":274},{"id":"vl","i":77,"x":790,"y":292},{"id":"vl","i":78,"x":781,"y":310},{"id":"vl","i":79,"x":797,"y":330},{"id":"vl","i":80,"x":800,"y":347},{"id":"vl","i":81,"x":808,"y":348},{"id":"vl","i":82,"x":818,"y":343},{"id":"vl","i":83,"x":831,"y":351},{"id":"vl","i":84,"x":827,"y":370},{"id":"vl","i":85,"x":832,"y":372},{"id":"vl","i":86,"x":850,"y":370},{"id":"vl","i":87,"x":863,"y":365},{"id":"vl","i":88,"x":882,"y":370},{"id":"vl","i":89,"x":890,"y":360},{"id":"vl","i":90,"x":902,"y":352},{"id":"vl","i":91,"x":910,"y":354},{"id":"vl","i":92,"x":923,"y":367},{"id":"vl","i":93,"x":923,"y":387},{"id":"vl","i":94,"x":950,"y":398},{"id":"vl","i":95,"x":953,"y":404},{"id":"vl","i":96,"x":967,"y":406},{"id":"vl","i":97,"x":980,"y":402},{"id":"vl","i":98,"x":988,"y":410},{"id":"vl","i":99,"x":989,"y":419},{"id":"vl","i":100,"x":1002,"y":413},{"id":"vl","i":101,"x":1011,"y":423},{"id":"vl","i":102,"x":998,"y":438},{"id":"vl","i":103,"x":1003,"y":445},{"id":"vl","i":104,"x":995,"y":448},{"id":"vl","i":105,"x":997,"y":457},{"id":"vl","i":106,"x":988,"y":462},{"id":"vl","i":107,"x":983,"y":473},{"id":"vl","i":108,"x":988,"y":482},{"id":"vl","i":109,"x":983,"y":493},{"id":"vl","i":110,"x":973,"y":510},{"id":"vl","i":111,"x":983,"y":510},{"id":"vl","i":112,"x":980,"y":517},{"id":"vl","i":113,"x":975,"y":532},{"id":"vl","i":114,"x":967,"y":533},{"id":"vl","i":115,"x":963,"y":543},{"id":"vl","i":116,"x":952,"y":552},{"id":"vl","i":117,"x":952,"y":567},{"id":"vl","i":118,"x":965,"y":578},{"id":"vl","i":119,"x":955,"y":582},{"id":"vl","i":120,"x":943,"y":595},{"id":"vl","i":121,"x":917,"y":605},{"id":"vl","i":122,"x":916,"y":612},{"id":"vl","i":123,"x":903,"y":620},{"id":"vl","i":124,"x":899,"y":615},{"id":"vl","i":125,"x":888,"y":622},{"id":"vl","i":126,"x":878,"y":612},{"id":"vl","i":127,"x":863,"y":612},{"id":"vl","i":128,"x":853,"y":624},{"id":"vl","i":129,"x":847,"y":619},{"id":"vl","i":130,"x":840,"y":623},{"id":"vl","i":131,"x":830,"y":625},{"id":"vl","i":132,"x":817,"y":623},{"id":"vl","i":133,"x":812,"y":633},{"id":"vl","i":134,"x":803,"y":633},{"id":"vl","i":135,"x":793,"y":630},{"id":"vl","i":136,"x":777,"y":625},{"id":"vl","i":137,"x":775,"y":613},{"id":"vl","i":138,"x":763,"y":607},{"id":"vl","i":139,"x":753,"y":602},{"id":"vl","i":140,"x":740,"y":612},{"id":"vl","i":141,"x":733,"y":602},{"id":"vl","i":142,"x":713,"y":603},{"id":"vl","i":143,"x":703,"y":593},{"id":"vl","i":144,"x":690,"y":585},{"id":"vl","i":145,"x":677,"y":592},{"id":"vl","i":146,"x":658,"y":588},{"id":"vl","i":147,"x":655,"y":598},{"id":"vl","i":148,"x":658,"y":612},{"id":"vl","i":149,"x":642,"y":605},{"id":"vl","i":150,"x":623,"y":618},{"id":"vl","i":151,"x":613,"y":612},{"id":"vl","i":152,"x":603,"y":608},{"id":"vl","i":153,"x":590,"y":617},{"id":"vl","i":154,"x":577,"y":627},{"id":"vl","i":155,"x":568,"y":626},{"id":"vl","i":156,"x":566,"y":617},{"id":"vl","i":157,"x":563,"y":623},{"id":"vl","i":158,"x":550,"y":637},{"id":"vl","i":159,"x":537,"y":637},{"id":"vl","i":160,"x":510,"y":622},{"id":"vl","i":161,"x":497,"y":627},{"id":"vl","i":162,"x":487,"y":630},{"id":"vl","i":163,"x":482,"y":635},{"id":"vl","i":164,"x":467,"y":635},{"id":"vl","i":165,"x":453,"y":638},{"id":"vl","i":166,"x":440,"y":635},{"id":"vl","i":167,"x":435,"y":622},{"id":"vl","i":168,"x":425,"y":612},{"id":"vl","i":169,"x":413,"y":613},{"id":"vl","i":170,"x":402,"y":610},{"id":"vl","i":171,"x":395,"y":597},{"id":"vl","i":172,"x":382,"y":597},{"id":"vl","i":173,"x":370,"y":602},{"id":"vl","i":174,"x":362,"y":615},{"id":"vl","i":175,"x":358,"y":623},{"id":"vl","i":176,"x":348,"y":617},{"id":"vl","i":177,"x":333,"y":617},{"id":"vl","i":178,"x":330,"y":603},{"id":"vl","i":179,"x":307,"y":603},{"id":"vl","i":180,"x":290,"y":612},{"id":"vl","i":181,"x":278,"y":627},{"id":"vl","i":182,"x":268,"y":617},{"id":"vl","i":183,"x":263,"y":607},{"id":"vl","i":184,"x":238,"y":602},{"id":"vl","i":185,"x":225,"y":605},{"id":"vl","i":186,"x":217,"y":590},{"id":"vl","i":187,"x":205,"y":588},{"id":"vl","i":188,"x":198,"y":597},{"id":"vl","i":189,"x":188,"y":593},{"id":"vl","i":190,"x":178,"y":597},{"id":"vl","i":191,"x":175,"y":582},{"id":"vl","i":192,"x":172,"y":579},{"id":"vl","i":193,"x":155,"y":585},{"id":"vl","i":194,"x":160,"y":595},{"id":"vl","i":195,"x":148,"y":600},{"id":"vl","i":196,"x":135,"y":602},{"id":"vl","i":197,"x":127,"y":603},{"id":"vl","i":198,"x":132,"y":625},{"id":"vl","i":199,"x":118,"y":622},{"id":"vl","i":200,"x":108,"y":610},{"id":"vl","i":201,"x":100,"y":593},{"id":"vl","i":202,"x":90,"y":577},{"id":"vl","i":203,"x":78,"y":576},{"id":"vl","i":204,"x":75,"y":572},{"id":"vl","i":205,"x":65,"y":576},{"id":"vl","i":206,"x":60,"y":563},{"id":"vl","i":207,"x":54,"y":557},{"id":"vl","i":208,"x":58,"y":550},{"id":"vl","i":209,"x":57,"y":530},{"id":"vl","i":210,"x":53,"y":525},{"id":"vl","i":211,"x":65,"y":513},{"id":"vl","i":212,"x":58,"y":493},{"id":"vl","i":213,"x":48,"y":483},{"id":"vl","i":214,"x":48,"y":470},{"id":"vl","i":215,"x":47,"y":457},{"id":"vl","i":216,"x":41,"y":444},
      {"id":"brussel","i":0,"x":540,"y":578},{"id":"brussel","i":1,"x":542,"y":570},{"id":"brussel","i":2,"x":550,"y":568},{"id":"brussel","i":3,"x":552,"y":555},{"id":"brussel","i":4,"x":555,"y":545},{"id":"brussel","i":5,"x":567,"y":540},{"id":"brussel","i":6,"x":580,"y":540},{"id":"brussel","i":7,"x":587,"y":535},{"id":"brussel","i":8,"x":595,"y":553},{"id":"brussel","i":9,"x":605,"y":565},{"id":"brussel","i":10,"x":607,"y":578},{"id":"brussel","i":11,"x":600,"y":582},{"id":"brussel","i":12,"x":608,"y":590},{"id":"brussel","i":13,"x":600,"y":597},{"id":"brussel","i":14,"x":582,"y":604},{"id":"brussel","i":15,"x":562,"y":595},{"id":"brussel","i":16,"x":555,"y":583},{"id":"brussel","i":17,"x":540,"y":578},
      {"id":"voeren","i":0,"x":963,"y":604},{"id":"voeren","i":1,"x":977,"y":608},{"id":"voeren","i":2,"x":988,"y":592},{"id":"voeren","i":3,"x":1000,"y":603},{"id":"voeren","i":4,"x":1010,"y":600},{"id":"voeren","i":5,"x":1013,"y":605},{"id":"voeren","i":6,"x":1023,"y":602},{"id":"voeren","i":7,"x":1032,"y":612},{"id":"voeren","i":8,"x":1023,"y":623},{"id":"voeren","i":9,"x":1007,"y":622},{"id":"voeren","i":10,"x":1000,"y":612},{"id":"voeren","i":11,"x":983,"y":608},{"id":"voeren","i":12,"x":970,"y":607},{"id":"voeren","i":13,"x":963,"y":604},
      {"id":"baarle","i":0,"x":737,"y":287},{"id":"baarle","i":1,"x":745,"y":282},{"id":"baarle","i":2,"x":738,"y":285},{"id":"baarle","i":3,"x":744,"y":285},{"id":"baarle","i":4,"x":737,"y":289},{"id":"baarle","i":5,"x":743,"y":288},{"id":"baarle","i":6,"x":738,"y":293},{"id":"baarle","i":7,"x":741,"y":291}
    ]
  },
  "encoding": {
    "x": {"field": "x", "type": "quantitative", "scale": {"domain": [0, 1074], "nice": false, "zero": false}, "axis": null},
    "y": {"field": "y", "type": "quantitative", "scale": {"domain": [900, 0], "nice": false, "zero": false}, "axis": null}
  },
  "layer": [
    {
      "data": {"name": "dots"},
      "mark": {"type": "point", "shape": "circle", "filled": true, "opacity": 1},
      "encoding": {
        "color": {
          "field": "s",
          "type": "nominal",
          "scale": {"domain": ["mogelijk", "waarschijnlijk", "zeker"], "range": ["#cde388", "#74b26f", "#6062a8"]},
          "legend": {
            "title": null,
            "orient": "none",
            "legendX": 34,
            "legendY": 6,
            "padding": 0,
            "gridAlign": "all",
            "labelFont": "Liberation Sans",
            "labelFontSize": 16,
            "labelColor": "#111111",
            "labelOffset": 18,
            "labelBaseline": "alphabetic",
            "rowPadding": 0,
            "symbolOpacity": 1,
            "labelExpr": "datum.label === 'mogelijk' ? 'mogelijk (59)' : datum.label === 'waarschijnlijk' ? 'waarschijnlijk (216)' : 'zeker (240)'"
          }
        },
        "size": {
          "field": "s",
          "type": "nominal",
          "scale": {"type": "ordinal", "domain": ["mogelijk", "waarschijnlijk", "zeker"], "range": [160, 370, 370]}
        }
      }
    },
    {
      "data": {"name": "rivers"},
      "mark": {"type": "line", "color": "#6cc6e0", "strokeWidth": 1.2},
      "encoding": {"detail": {"field": "id"}, "order": {"field": "i", "type": "quantitative"}}
    },
    {
      "data": {"name": "provinces"},
      "mark": {"type": "line", "color": "#8d8280", "strokeWidth": 1.4},
      "encoding": {"detail": {"field": "id"}, "order": {"field": "i", "type": "quantitative"}}
    },
    {
      "data": {"name": "borders"},
      "mark": {"type": "line", "color": "#4a6a35", "strokeWidth": 1.6},
      "encoding": {"detail": {"field": "id"}, "order": {"field": "i", "type": "quantitative"}}
    }
  ]
}
